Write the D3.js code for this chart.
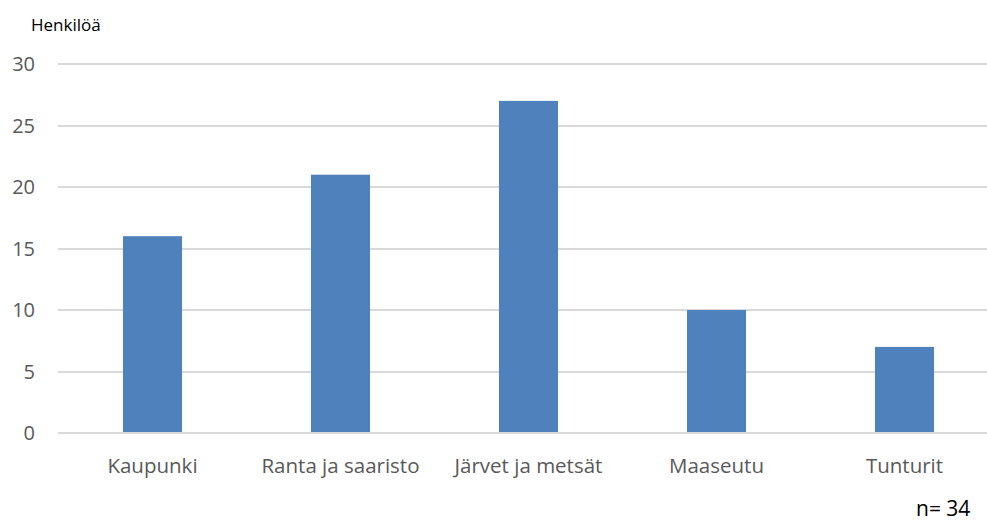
<!DOCTYPE html>
<meta charset="utf-8">
<style>
body { margin: 0; background: #fff; }
svg { display: block; font-family: "Open Sans", "Noto Sans", sans-serif; }
.grid line { stroke: #d9d9d9; stroke-width: 2; shape-rendering: crispEdges; }
.ytick text { font-size: 20px; fill: #595959; }
.xlabel { font-size: 20.5px; fill: #595959; text-anchor: middle; }
</style>
<svg width="987" height="522"></svg>
<script src="https://d3js.org/d3.v7.min.js"></script>
<script>

var categories = ["Kaupunki", "Ranta ja saaristo", "Järvet ja metsät", "Maaseutu", "Tunturit"];
var values = [16, 21, 27, 10, 7];
var yTicks = [0, 5, 10, 15, 20, 25, 30];

var svg = d3.select("svg");

var x = d3.scaleBand()
    .domain(categories)
    .range([58.5, 998.5])
    .paddingInner(0.686)
    .paddingOuter(0.343);

var y = d3.scaleLinear()
    .domain([0, 30])
    .range([433, 64]);

// gridlines
svg.append("g")
    .attr("class", "grid")
  .selectAll("line")
    .data(yTicks)
  .enter().append("line")
    .attr("x1", 58)
    .attr("x2", 987)
    .attr("y1", function(d) { return Math.round(y(d)); })
    .attr("y2", function(d) { return Math.round(y(d)); });

// y tick labels
svg.append("g")
    .attr("class", "ytick")
  .selectAll("text")
    .data(yTicks)
  .enter().append("text")
    .attr("x", 35)
    .attr("y", function(d) { return y(d); })
    .attr("dy", "0.35em")
    .attr("text-anchor", "end")
    .text(function(d) { return d; });

// bars
svg.append("g")
  .selectAll("rect")
    .data(values)
  .enter().append("rect")
    .attr("x", function(d, i) { return x(categories[i]); })
    .attr("width", x.bandwidth())
    .attr("y", function(d) { return y(d); })
    .attr("height", function(d) { return y(0) - y(d) - 1; })
    .attr("fill", "#4f81bd");

// category labels
svg.append("g")
  .selectAll("text")
    .data(categories)
  .enter().append("text")
    .attr("class", "xlabel")
    .attr("x", function(d) { return x(d) + x.bandwidth() / 2; })
    .attr("y", 473)
    .text(function(d) { return d; });

svg.append("text")
    .attr("x", 31)
    .attr("y", 31)
    .style("font-size", "17px")
    .style("fill", "#000")
    .text("Henkilöä");

svg.append("text")
    .attr("x", 916)
    .attr("y", 516)
    .style("font-size", "21px")
    .style("fill", "#000")
    .text("n= 34");

</script>
